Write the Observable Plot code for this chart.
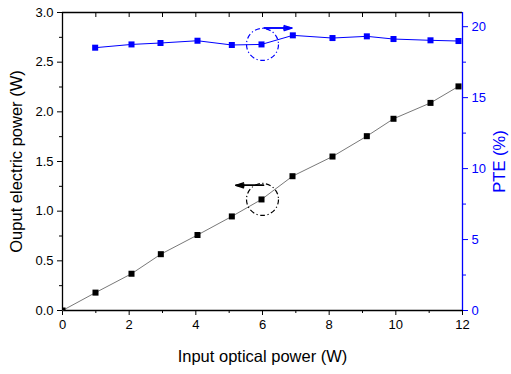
<!DOCTYPE html>
<html>
<head>
<meta charset="utf-8">
<script src="https://cdn.jsdelivr.net/npm/d3@7"></script>
<script src="https://cdn.jsdelivr.net/npm/@observablehq/plot@0.6"></script>
<style>
  html, body { margin: 0; padding: 0; background: #fff; }
  body { width: 511px; height: 374px; overflow: hidden; }
</style>
</head>
<body>
<div id="chart"></div>
<script>
// Input optical power (W)
const inputPower = [0, 0.99, 2.07, 2.95, 4.05, 5.08, 5.97, 6.9, 8.1, 9.13, 9.93, 11.04, 11.88];
// Output electric power (W)
const outputPower = [0, 0.18, 0.37, 0.567, 0.76, 0.947, 1.118, 1.352, 1.55, 1.755, 1.93, 2.09, 2.256];
// PTE (%) — no value at 0
const pteX = [0.98, 2.07, 2.94, 4.05, 5.08, 5.97, 6.91, 8.1, 9.13, 9.93, 11.04, 11.88];
const pteValues = [18.52, 18.75, 18.85, 19.01, 18.71, 18.75, 19.39, 19.2, 19.32, 19.13, 19.04, 18.99];

// Axis ticks
const xMajorTicks = [0, 2, 4, 6, 8, 10, 12];
const xMinorTicks = [1, 3, 5, 7, 9, 11];
const xTopTicks = [0, 1, 2, 3, 4, 5, 6, 7, 8, 9, 10, 11, 12];
const yMajorTicks = [0, 0.5, 1.0, 1.5, 2.0, 2.5, 3.0];
const yMinorTicks = [0.25, 0.75, 1.25, 1.75, 2.25, 2.75];
const pteMajorTicks = [0, 5, 10, 15, 20];
const pteMinorTicks = [2.5, 7.5, 12.5, 17.5];

// Annotations
const circleX = [6, 6];
const circleOut = [1.118, null];
const circlePte = [null, 18.75];
const arrowBlack = {x1: 6.03, x2: 5.2, y: 1.26};
const arrowBlue = {x1: 6.05, x2: 6.88, pte: 19.9};

const pteMax = 21; // right axis spans 0..21 while left spans 0..3
const k = 3 / pteMax;

const outData = inputPower.map((x, i) => ({x, y: outputPower[i]}));
const pteData = pteX.map((x, i) => ({x, y: pteValues[i] * k}));
const circles = [
  {x: circleX[0], y: circleOut[0], c: "black"},
  {x: circleX[1], y: circlePte[1] * k, c: "blue"}
];
const arrows = [
  {x1: arrowBlack.x1, x2: arrowBlack.x2, y1: arrowBlack.y, y2: arrowBlack.y, c: "black"},
  {x1: arrowBlue.x1, x2: arrowBlue.x2, y1: arrowBlue.pte * k, y2: arrowBlue.pte * k, c: "blue"}
];

const fmt = d => d3.format(".1f")(d);
const none = () => "";

const chart = Plot.plot({
  width: 511,
  height: 374,
  marginLeft: 62,
  marginRight: 49,
  marginTop: 12,
  marginBottom: 64,
  style: {fontFamily: "'Liberation Sans', Arial, sans-serif", fontSize: "13px", background: "white", overflow: "visible"},
  x: {domain: [0, 12]},
  y: {domain: [0, 3]},
  marks: [
    // bottom axis
    Plot.axisX({ticks: xMajorTicks, tickSize: 5, tickPadding: 4, tickFormat: d => String(d), label: null, fontSize: 13}),
    Plot.axisX({ticks: xMinorTicks, tickSize: 3, tickFormat: none, label: null}),
    Plot.axisX({ticks: [], label: "Input optical power (W)", labelAnchor: "center", labelArrow: "none", labelOffset: 51, fontSize: 16.5}),
    // top inward ticks
    Plot.axisX({anchor: "top", ticks: xTopTicks, tickSize: -4, tickFormat: none, label: null}),
    // left axis
    Plot.axisY({ticks: yMajorTicks, tickSize: 5, tickPadding: 4, tickFormat: fmt, label: null}),
    Plot.axisY({ticks: yMinorTicks, tickSize: 3, tickFormat: none, label: null}),
    Plot.axisY({ticks: [], label: "Ouput electric power (W)", labelAnchor: "center", labelArrow: "none", labelOffset: 52, fontSize: 16.5}),
    // right axis (PTE)
    Plot.axisY({anchor: "right", ticks: pteMajorTicks.map(v => v * k), tickSize: 5, tickPadding: 4,
      tickFormat: d => String(Math.round(d / k)), color: "blue", stroke: "blue", fill: "blue", label: null}),
    Plot.axisY({anchor: "right", ticks: pteMinorTicks.map(v => v * k), tickSize: 3, tickFormat: none, label: null, stroke: "blue"}),
    Plot.axisY({anchor: "right", ticks: [], label: "PTE (%)", labelAnchor: "center", labelArrow: "none", labelOffset: 42, fill: "blue", color: "blue", fontSize: 16.5}),
    // frame
    Plot.ruleY([0], {stroke: "black", strokeWidth: 1.3}),
    Plot.ruleY([3], {stroke: "black", strokeWidth: 1.3}),
    Plot.ruleX([0], {stroke: "black", strokeWidth: 1.3}),
    Plot.ruleX([12], {stroke: "blue", strokeWidth: 1.3}),
    // series
    Plot.line(outData, {x: "x", y: "y", stroke: "#555", strokeWidth: 0.8}),
    Plot.dot(outData, {x: "x", y: "y", symbol: "square", r: 3.4, fill: "black", stroke: "none", clip: true}),
    Plot.line(pteData, {x: "x", y: "y", stroke: "blue", strokeWidth: 1}),
    Plot.dot(pteData, {x: "x", y: "y", symbol: "square", r: 3.4, fill: "blue", stroke: "none"}),
    // annotations
    Plot.dot(circles, {x: "x", y: "y", r: 16, stroke: d => d.c, fill: "none", strokeWidth: 1.2, strokeDasharray: "5,2.5,1.2,2.5"}),
    Plot.arrow(arrows, {x1: "x1", y1: "y1", x2: "x2", y2: "y2", stroke: d => d.c, strokeWidth: 1.5, headLength: 8, headAngle: 36}),
    Plot.arrow(arrows, {x1: "x1", y1: "y1", x2: "x2", y2: "y2", stroke: d => d.c, strokeWidth: 1.5, headLength: 8, headAngle: 18})
  ]
});
document.getElementById("chart").appendChild(chart);
</script>
</body>
</html>
